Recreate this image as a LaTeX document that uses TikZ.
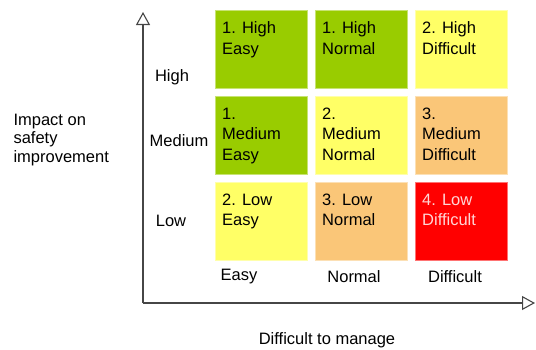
\documentclass[tikz,border=0pt]{standalone}
\usepackage{fontspec}
\setmainfont{Liberation Sans}
\usetikzlibrary{arrows.meta,positioning,calc}

\definecolor{cellgreen}{RGB}{153,204,0}
\definecolor{cellyellow}{RGB}{255,255,102}
\definecolor{cellorange}{RGB}{250,198,120}
\definecolor{cellred}{RGB}{255,0,0}
\definecolor{pinktext}{RGB}{255,214,214}
\definecolor{axisgray}{RGB}{70,70,70}

\begin{document}
\begin{tikzpicture}[x=1pt, y=-1pt,
    every node/.style={font=\fontsize{16.5}{20.5}\selectfont},
    cell/.style={rectangle, anchor=north west, minimum width=92pt, minimum height=78pt, inner sep=0pt, line width=1pt},
    celltext/.style={anchor=north west, align=left, inner sep=0pt, xshift=7pt, yshift=-11.5pt},
    axis/.style={axisgray, line width=1.3pt, -{Triangle[open, length=13pt, width=14pt, line width=1.1pt]}}]
  % Define dimensions
  \def\xpitch{100}
  \def\ypitch{86}
  \useasboundingbox (0,0) rectangle (536,349);

  % Define points
  \coordinate (O) at (143,303);
  \coordinate (Ytop) at (143,12);
  \coordinate (Xend) at (535,303);

  % Draw axes
  \draw[axis] (O) -- (Ytop);
  \draw[axis] (O) -- (Xend);

  % Draw cells
  \foreach \col/\row/\clr/\tclr/\txt in {
      0/0/cellgreen/black/{1. High\\Easy},
      1/0/cellgreen/black/{1. High\\Normal},
      2/0/cellyellow/black/{2. High\\Difficult},
      0/1/cellgreen/black/{1.\\Medium\\Easy},
      1/1/cellyellow/black/{2.\\Medium\\Normal},
      2/1/cellorange/black/{3.\\Medium\\Difficult},
      0/2/cellyellow/black/{2. Low\\Easy},
      1/2/cellorange/black/{3. Low\\Normal},
      2/2/cellred/pinktext/{4. Low\\Difficult}} {%
    \node[cell, fill=\clr, draw=\clr!55!white] (c\row\col) at (215+\xpitch*\col, 10+\ypitch*\row) {};
    \node[celltext, text=\tclr] (t\row\col) at (c\row\col.north west) {\txt};
  }

  % Label rows
  \node (high) at (172,77) {High};
  \node (medium) at (179,141) {Medium};
  \node (low) at (171,221) {Low};
  \node[anchor=west, align=left, font=\fontsize{16.5}{18.5}\selectfont] (impact) at (10,140) {Impact on\\safety\\improvement};

  % Label columns
  \node (easy) at (239,277) {Easy};
  \node (normal) at (354,277) {Normal};
  \node (difficult) at (455,277) {Difficult};
  \node (manage) at (327,340) {Difficult to manage};
\end{tikzpicture}
\end{document}
